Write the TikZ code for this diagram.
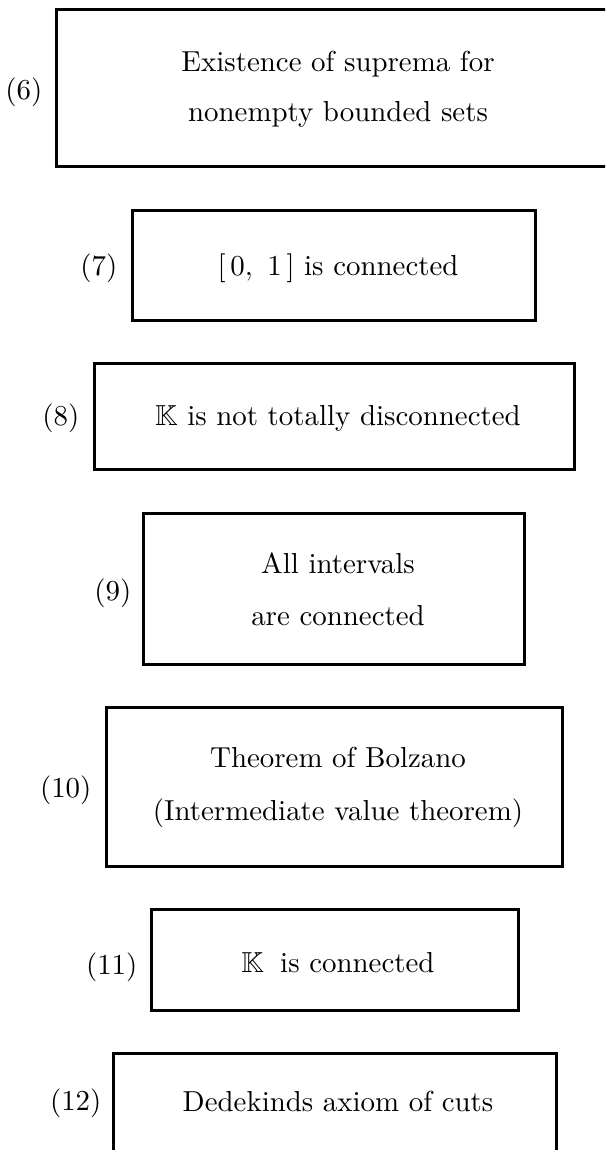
\documentclass[tikz,border=0pt]{standalone}
\usepackage{amssymb}
\begin{document}
\begin{tikzpicture}[x=1pt,y=1pt,
  box/.style={draw, line width=3pt, inner sep=0pt, outer sep=0pt},
  txt/.style={scale=2.89, transform shape, inner sep=0pt, anchor=base},
  lbl/.style={scale=2.89, transform shape, inner sep=0pt, anchor=base east}]
\useasboundingbox (0,0) rectangle (605,-1150);
\clip (0,0) rectangle (605,-1150);
% boxes
\node[box, minimum width=569pt, minimum height=157pt] (b6) at (340.5,-88.5) {};
\node[box, minimum width=403pt, minimum height=109pt] (b7) at (333.5,-265.5) {};
\node[box, minimum width=480pt, minimum height=106pt] (b8) at (334,-416) {};
\node[box, minimum width=381pt, minimum height=151pt] (b9) at (333.5,-588.5) {};
\node[box, minimum width=456pt, minimum height=159pt] (b10) at (334,-786.5) {};
\node[box, minimum width=367pt, minimum height=101pt] (b11) at (334.5,-959.5) {};
\node[box, minimum width=443pt, minimum height=157pt] (b12) at (334.5,-1131.5) {};
% texts
\node[txt] (t6a) at (338,-72) {Existence of suprema for};
\node[txt] (t6b) at (338,-122) {nonempty bounded sets};
\node[txt] (t7) at (338,-275) {$[\,0,\ 1\,]$\ is connected};
\node[txt] (t8) at (338,-425) {$\mathbb{K}$ is not totally disconnected};
\node[txt] (t9a) at (338,-573) {All intervals};
\node[txt] (t9b) at (338,-625) {are connected};
\node[txt] (t10a) at (338,-767) {Theorem of Bolzano};
\node[txt] (t10b) at (338,-820) {(Intermediate value theorem)};
\node[txt] (t11) at (338,-972) {$\mathbb{K}$\hspace{2.3pt} is connected};
\node[txt] (t12) at (338,-1111) {Dedekinds axiom of cuts};
% labels
\node[lbl] (l6) at (43,-100) {(6)};
\node[lbl] (l7) at (118,-275) {(7)};
\node[lbl] (l8) at (80,-425) {(8)};
\node[lbl] (l9) at (132,-600) {(9)};
\node[lbl] (l10) at (92,-797) {(10)};
\node[lbl] (l11) at (138,-974) {(11)};
\node[lbl] (l12) at (102,-1110) {(12)};
\end{tikzpicture}
\end{document}
